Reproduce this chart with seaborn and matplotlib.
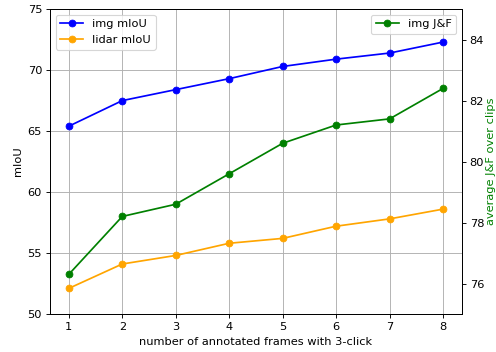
import numpy as np
import matplotlib
matplotlib.use("Agg")
import matplotlib.pyplot as plt
import seaborn as sns

frames = [1, 2, 3, 4, 5, 6, 7, 8]
img_miou = [65.4, 67.5, 68.4, 69.3, 70.3, 70.9, 71.4, 72.3]
lidar_miou = [52.1, 54.1, 54.8, 55.8, 56.2, 57.2, 57.8, 58.6]
img_jf = [76.3, 78.2, 78.6, 79.6, 80.6, 81.2, 81.4, 82.4]

# default-styled figure rendered at a reduced dpi to land on 496x352
DPI = 82
fig, ax = plt.subplots(figsize=(496 / DPI, 352 / DPI), dpi=DPI)

sns.lineplot(x=frames, y=img_miou, ax=ax, color='blue', marker='o',
             markeredgecolor='blue', label='img mIoU')
sns.lineplot(x=frames, y=lidar_miou, ax=ax, color='orange', marker='o',
             markeredgecolor='orange', label='lidar mIoU')
ax.set_ylim(50, 75)
ax.set_xlabel('number of annotated frames with 3-click')
ax.set_ylabel('mIoU')
ax.set_xticks(frames)
ax.grid(True, color='#b0b0b0', linewidth=0.8)
ax.legend(loc='upper left')

ax2 = ax.twinx()
sns.lineplot(x=frames, y=img_jf, ax=ax2, color='green', marker='o',
             markeredgecolor='green', label='img J&F')
ax2.set_ylim(75, 85)
ax2.set_ylabel('average J&F over clips', color='green', labelpad=1.5)
ax2.legend(loc='upper right')

fig.subplots_adjust(left=0.101, right=0.931, top=0.974, bottom=0.108)
fig.savefig('out.png', dpi=DPI)
